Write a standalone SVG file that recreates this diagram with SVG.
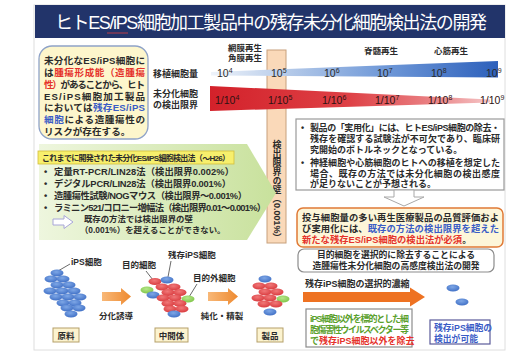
<svg xmlns="http://www.w3.org/2000/svg" width="519" height="355" viewBox="0 0 519 355">
  <defs>
    <linearGradient id="gBlue" gradientUnits="userSpaceOnUse" x1="211" y1="0" x2="498" y2="0">
      <stop offset="0" stop-color="#eef3fa"/>
      <stop offset="0.25" stop-color="#b9cdea"/>
      <stop offset="0.6" stop-color="#7099d8"/>
      <stop offset="1" stop-color="#2d60bb"/>
    </linearGradient>
    <linearGradient id="gRed" gradientUnits="userSpaceOnUse" x1="210" y1="0" x2="490" y2="0">
      <stop offset="0" stop-color="#d3212a"/>
      <stop offset="0.5" stop-color="#de4146"/>
      <stop offset="0.8" stop-color="#ea8386"/>
      <stop offset="1" stop-color="#f5c6c7"/>
    </linearGradient>
    <linearGradient id="gGreen" x1="0" y1="0" x2="1" y2="0">
      <stop offset="0" stop-color="#eef6de"/>
      <stop offset="1" stop-color="#c8e19c"/>
    </linearGradient>
    <linearGradient id="gOrange" x1="0" y1="0" x2="1" y2="0">
      <stop offset="0" stop-color="#f8b878"/>
      <stop offset="1" stop-color="#ee8a30"/>
    </linearGradient>
    <radialGradient id="cBlue" cx="0.45" cy="0.35" r="0.7">
      <stop offset="0" stop-color="#7ea7e6"/>
      <stop offset="1" stop-color="#3d6dc4"/>
    </radialGradient>
    <radialGradient id="cRed" cx="0.45" cy="0.35" r="0.7">
      <stop offset="0" stop-color="#f07878"/>
      <stop offset="1" stop-color="#d8383c"/>
    </radialGradient>
    <radialGradient id="cGreen" cx="0.45" cy="0.35" r="0.7">
      <stop offset="0" stop-color="#b6e68a"/>
      <stop offset="1" stop-color="#7cc445"/>
    </radialGradient>
  </defs>
  <style>
    text { font-family: "Liberation Sans", "Noto Sans CJK JP", sans-serif; fill: #2b2b2b; font-weight: bold; }
    .num { font-family: "Liberation Sans", sans-serif; font-weight: normal; font-size: 10.5px; }
    .body { font-size: 9.6px; }
    .lbl { font-size: 8.5px; }
    .red { fill: #e5322b; }
    .blu { fill: #3a5cc6; }
    .grn { fill: #5aa02c; }
    .cb { fill: url(#cBlue); }
    .cr { fill: url(#cRed); }
    .cg { fill: url(#cGreen); }
    .tag { fill: #fcf3cf; stroke: #b5a06a; stroke-width: 1; }
    .lead { stroke: #444; stroke-width: 0.8; fill: none; }
  </style>

  <!-- page frame -->
  <rect x="34" y="5" width="471" height="345" fill="#ffffff" stroke="#dedede" stroke-width="1"/>

  <!-- title bar -->
  <g id="title">
    <rect x="35" y="5" width="470" height="33" fill="#22346a"/>
    <text x="55" y="28.5" font-size="18" textLength="432" style="fill:#ffffff;font-weight:normal">ヒトES/iPS細胞加工製品中の残存未分化細胞検出法の開発</text>
    <line x1="107" y1="33" x2="128" y2="33" stroke="#e04040" stroke-width="0.8"/>
  </g>

  <!-- risk statement -->
  <g id="risk">
    <rect x="39" y="46" width="109" height="93" rx="13" fill="#fdf6cc" stroke="#8fa3c8" stroke-width="1.3"/>
    <text class="body" x="44" y="64" textLength="101">未分化なES/iPS細胞に</text>
    <text class="body" x="44" y="75.8" textLength="101">は<tspan class="red">腫瘍形成能（造腫瘍</tspan></text>
    <text class="body" x="44" y="87.8" textLength="101"><tspan class="red">性）</tspan>があることから、ヒト</text>
    <text class="body" x="44" y="99.6" textLength="101">ES/iPS細胞加工製品</text>
    <text class="body" x="44" y="111.3" textLength="101">においては<tspan class="blu">残存ES/iPS</tspan></text>
    <text class="body" x="44" y="123" textLength="101"><tspan class="blu">細胞</tspan>による造腫瘍性の</text>
    <text class="body" x="44" y="134.6">リスクが存在する。</text>
  </g>

  <!-- detection-limit wall -->
  <g id="wall">
    <rect x="267" y="50" width="19" height="193" fill="#fad9b9" stroke="#c7a07c" stroke-width="1"/>
    <text x="276.5" y="140" font-size="9" style="writing-mode:vertical-rl;text-orientation:mixed">検出限界の壁（0.001%）</text>
  </g>

  <!-- dose / detection scale -->
  <g id="scale">
    <text class="lbl" x="245" y="51" text-anchor="middle">網膜再生</text>
    <text class="lbl" x="245" y="61" text-anchor="middle">角膜再生</text>
    <text class="lbl" x="381" y="54" text-anchor="middle">脊髄再生</text>
    <text class="lbl" x="451" y="54" text-anchor="middle">心筋再生</text>
    <text x="153" y="76.5" font-size="9">移植細胞量</text>
    <text x="153" y="96.5" font-size="9">未分化細胞</text>
    <text x="153" y="107.5" font-size="9">の検出限界</text>

    <polygon points="211,72 498,61 498,77.5 211,75.5" fill="url(#gBlue)"/>
    <polygon points="210,86 490,99.5 490,102.5 210,111" fill="url(#gRed)"/>

    <text class="num" x="217" y="77">10<tspan dy="-4" font-size="7">4</tspan></text>
    <text class="num" x="271" y="77">10<tspan dy="-4" font-size="7">5</tspan></text>
    <text class="num" x="324" y="77">10<tspan dy="-4" font-size="7">6</tspan></text>
    <text class="num" x="377" y="77">10<tspan dy="-4" font-size="7">7</tspan></text>
    <text class="num" x="431" y="77">10<tspan dy="-4" font-size="7">8</tspan></text>
    <text class="num" x="486" y="77">10<tspan dy="-4" font-size="7">9</tspan></text>

    <text class="num" x="215" y="104" style="fill:#2e1212">1/10<tspan dy="-4" font-size="7">4</tspan></text>
    <text class="num" x="268" y="104" style="fill:#2e1212">1/10<tspan dy="-4" font-size="7">5</tspan></text>
    <text class="num" x="322" y="104" style="fill:#2e1212">1/10<tspan dy="-4" font-size="7">6</tspan></text>
    <text class="num" x="375" y="104" style="fill:#2e1212">1/10<tspan dy="-4" font-size="7">7</tspan></text>
    <text class="num" x="428" y="104" style="fill:#2e1212">1/10<tspan dy="-4" font-size="7">8</tspan></text>
    <text class="num" x="480" y="104" style="fill:#2e1212">1/10<tspan dy="-4" font-size="7">9</tspan></text>
  </g>

  <!-- methods developed so far -->
  <g id="methods">
    <path d="M39,144 L247,144 L276,193 L247,240 L39,240 Z" fill="url(#gGreen)"/>
    <rect x="38" y="151" width="196" height="13" fill="#f7ef6c" stroke="#d2bd3c" stroke-width="0.8"/>
    <text x="42" y="161" font-size="8" textLength="188">これまでに開発された未分化ES/iPS細胞検出法（〜H26）</text>
    <text x="44" y="175" font-size="9.3">•</text>
    <text x="54" y="175" font-size="9.3" textLength="180">定量RT-PCR/LIN28法（検出限界0.002%）</text>
    <text x="44" y="187" font-size="9.3">•</text>
    <text x="54" y="187" font-size="9.3" textLength="177">デジタルPCR/LIN28法（検出限界0.001%）</text>
    <text x="44" y="199" font-size="9.3">•</text>
    <text x="54" y="199" font-size="9.3" textLength="193">造腫瘍性試験/NOGマウス（検出限界〜0.001%）</text>
    <text x="44" y="211" font-size="9.3">•</text>
    <text x="54" y="211" font-size="9.3" textLength="212">ラミニン521/コロニー増幅法（検出限界0.01〜0.001%）</text>
    <path d="M53,219 L64,219 L64,215.5 L73,222 L64,228.5 L64,225 L53,225 Z" fill="#ffffff" stroke="#a8a6d8" stroke-width="1"/>
    <text x="84" y="221.5" font-size="8.4">既存の方法では検出限界の壁</text>
    <text x="80" y="232.5" font-size="8.4">（0.001%）を超えることができない。</text>
  </g>

  <!-- current issues -->
  <g id="issues">
    <rect x="296" y="119" width="208" height="71" fill="#ffffff" stroke="#9a9a9a" stroke-width="1.2"/>
    <text x="301" y="130.5" font-size="9">•</text>
    <text x="310" y="130.5" font-size="9" textLength="190">製品の「実用化」には、ヒトES/iPS細胞の除去・</text>
    <text x="310" y="141.5" font-size="9" textLength="190">残存を確認する試験法が不可欠であり、臨床研</text>
    <text x="310" y="152.5" font-size="9">究開始のボトルネックとなっている。</text>
    <text x="301" y="165.5" font-size="9">•</text>
    <text x="310" y="165.5" font-size="9" textLength="190">神経細胞や心筋細胞のヒトへの移植を想定した</text>
    <text x="310" y="176.5" font-size="9" textLength="190">場合、既存の方法では未分化細胞の検出感度</text>
    <text x="310" y="187" font-size="9">が足りないことが予想される。</text>
  </g>

  <!-- down arrow between issue box and requirement -->
  <g id="connectors">
    <path d="M394,190 L414,190 L414,197 L424,197 L404,206 L384,197 L394,197 Z" fill="#ffffff" stroke="#a8a8a8" stroke-width="1"/>
  </g>

  <!-- requirement -->
  <g id="need">
    <rect x="297" y="208" width="206" height="39" rx="6" fill="#fdf6d9" stroke="#e07a36" stroke-width="1.5"/>
    <text x="302" y="220.5" font-size="9.3" textLength="197">投与細胞量の多い再生医療製品の品質評価およ</text>
    <text x="302" y="231.5" font-size="9.3" textLength="197">び実用化には、<tspan class="blu">既存の方法の検出限界を超えた</tspan></text>
    <text x="302" y="242.5" font-size="9.3"><tspan class="red">新たな残存ES/iPS細胞の検出法が必須</tspan>。</text>
  </g>

  <!-- development goal -->
  <g id="goal">
    <rect x="298" y="249" width="196" height="23" rx="6" fill="#ffffff" stroke="#8c8c8c" stroke-width="1.2"/>
    <text x="396" y="257.8" font-size="8.8" text-anchor="middle">目的細胞を選択的に除去することによる</text>
    <text x="396" y="268.8" font-size="8.8" text-anchor="middle">造腫瘍性未分化細胞の高感度検出法の開発</text>
  </g>

  <!-- selective enrichment -->
  <g id="enrich">
    <text x="305" y="286.5" font-size="9">残存iPS細胞の選択的濃縮</text>
    <path d="M303,292 L410,292 L410,287.5 L425,297 L410,306.5 L410,302 L303,302 Z" fill="#ee7222"/>
    <rect x="306" y="309" width="106" height="38" fill="#ffffff" stroke="#8c8c8c" stroke-width="1.2"/>
    <text x="310" y="321.5" font-size="9" class="grn" textLength="99">iPS細胞以外を標的とした細</text>
    <text x="310" y="332.5" font-size="9" class="grn" textLength="99">胞傷害性ウイルスベクター等</text>
    <text x="310" y="343.5" font-size="9" class="grn">で<tspan class="red">残存iPS細胞以外を除去</tspan></text>
    <ellipse class="cb" cx="453" cy="288" rx="6.5" ry="3.4"/>
    <ellipse class="cb" cx="462" cy="302" rx="6.5" ry="3.4"/>
  </g>

  <!-- outcome -->
  <g id="outcome">
    <rect x="430" y="320" width="60" height="24" fill="#ffffff" stroke="#5a5a9a" stroke-width="1.2"/>
    <text x="434" y="330.5" font-size="8.8" class="blu">残存iPS細胞の</text>
    <text x="434" y="341.5" font-size="8.8" class="blu">検出が可能</text>
  </g>

  <!-- raw material -->
  <g id="raw">
    <text class="lbl" x="71" y="265">iPS細胞</text>
    <line class="lead" x1="58" y1="271" x2="70" y2="264"/>
    <ellipse class="cb" cx="57" cy="273" rx="6.5" ry="3.4"/>
    <ellipse class="cb" cx="51" cy="279" rx="6.5" ry="3.4"/>
    <ellipse class="cb" cx="63" cy="279" rx="6.5" ry="3.4"/>
    <ellipse class="cb" cx="57" cy="285" rx="6.5" ry="3.4"/>
    <ellipse class="cb" cx="69" cy="285" rx="6.5" ry="3.4"/>
    <ellipse class="cb" cx="50" cy="291" rx="6.5" ry="3.4"/>
    <ellipse class="cb" cx="62" cy="291" rx="6.5" ry="3.4"/>
    <ellipse class="cb" cx="74" cy="291" rx="6.5" ry="3.4"/>
    <ellipse class="cb" cx="56" cy="297" rx="6.5" ry="3.4"/>
    <ellipse class="cb" cx="68" cy="297" rx="6.5" ry="3.4"/>
    <ellipse class="cb" cx="80" cy="297" rx="6.5" ry="3.4"/>
    <ellipse class="cb" cx="63" cy="303" rx="6.5" ry="3.4"/>
    <ellipse class="cb" cx="75" cy="303" rx="6.5" ry="3.4"/>
    <ellipse class="cb" cx="67" cy="308" rx="6.5" ry="3.4"/>
    <ellipse class="cb" cx="79" cy="308" rx="6.5" ry="3.4"/>
    <ellipse class="cb" cx="71" cy="314" rx="6.5" ry="3.4"/>
    <rect class="tag" x="53" y="328" width="26" height="14"/>
    <text class="lbl" x="66" y="338.5" text-anchor="middle">原料</text>
  </g>

  <!-- differentiation step -->
  <g id="step1">
    <path d="M102,292 L121,292 L121,288 L131,296.5 L121,305 L121,301 L102,301 Z" fill="url(#gOrange)"/>
    <text class="lbl" x="116" y="319" text-anchor="middle">分化誘導</text>
  </g>

  <!-- intermediate -->
  <g id="intermediate">
    <text class="lbl" x="122" y="268">目的細胞</text>
    <line class="lead" x1="146" y1="271" x2="153" y2="280"/>
    <text class="lbl" x="168" y="258">残存iPS細胞</text>
    <line class="lead" x1="171" y1="261" x2="168" y2="277"/>
    <text class="lbl" x="193" y="281">目的外細胞</text>
    <line class="lead" x1="197" y1="284" x2="189" y2="297"/>
    <ellipse class="cr" cx="155" cy="281.5" rx="6.5" ry="3.4"/>
    <ellipse class="cb" cx="167" cy="280" rx="6.5" ry="3.4"/>
    <ellipse class="cr" cx="162" cy="287" rx="6.5" ry="3.4"/>
    <ellipse class="cr" cx="174" cy="287" rx="6.5" ry="3.4"/>
    <ellipse class="cg" cx="147" cy="290" rx="6.5" ry="3.4"/>
    <ellipse class="cr" cx="168" cy="292.5" rx="6.5" ry="3.4"/>
    <ellipse class="cr" cx="180" cy="292.5" rx="6.5" ry="3.4"/>
    <ellipse class="cb" cx="153" cy="295" rx="6.5" ry="3.4"/>
    <ellipse class="cr" cx="163" cy="298" rx="6.5" ry="3.4"/>
    <ellipse class="cr" cx="175" cy="298" rx="6.5" ry="3.4"/>
    <ellipse class="cg" cx="188" cy="299" rx="6.5" ry="3.4"/>
    <ellipse class="cr" cx="168" cy="303.5" rx="6.5" ry="3.4"/>
    <ellipse class="cr" cx="180" cy="303.5" rx="6.5" ry="3.4"/>
    <ellipse class="cr" cx="170" cy="309" rx="6.5" ry="3.4"/>
    <ellipse class="cr" cx="182" cy="309" rx="6.5" ry="3.4"/>
    <ellipse class="cb" cx="174" cy="314" rx="6.5" ry="3.4"/>
    <rect class="tag" x="155" y="328" width="33" height="14"/>
    <text class="lbl" x="171.5" y="338.5" text-anchor="middle">中間体</text>
  </g>

  <!-- purification step -->
  <g id="step2">
    <path d="M208,292 L228,292 L228,288 L238,296.5 L228,305 L228,301 L208,301 Z" fill="url(#gOrange)"/>
    <text class="lbl" x="222" y="319" text-anchor="middle">純化・精製</text>
  </g>

  <!-- product -->
  <g id="product">
    <ellipse class="cb" cx="265" cy="279" rx="6.5" ry="3.4"/>
    <ellipse class="cr" cx="259" cy="286" rx="6.5" ry="3.4"/>
    <ellipse class="cr" cx="271" cy="286" rx="6.5" ry="3.4"/>
    <ellipse class="cr" cx="265" cy="292" rx="6.5" ry="3.4"/>
    <ellipse class="cr" cx="277" cy="292" rx="6.5" ry="3.4"/>
    <ellipse class="cr" cx="258" cy="298" rx="6.5" ry="3.4"/>
    <ellipse class="cr" cx="270" cy="298" rx="6.5" ry="3.4"/>
    <ellipse class="cg" cx="283" cy="299" rx="6.5" ry="3.4"/>
    <ellipse class="cr" cx="264" cy="304" rx="6.5" ry="3.4"/>
    <ellipse class="cr" cx="276" cy="304" rx="6.5" ry="3.4"/>
    <ellipse class="cb" cx="270" cy="312" rx="6.5" ry="3.4"/>
    <rect class="tag" x="257" y="328" width="26" height="14"/>
    <text class="lbl" x="270" y="338.5" text-anchor="middle">製品</text>
  </g>
</svg>
